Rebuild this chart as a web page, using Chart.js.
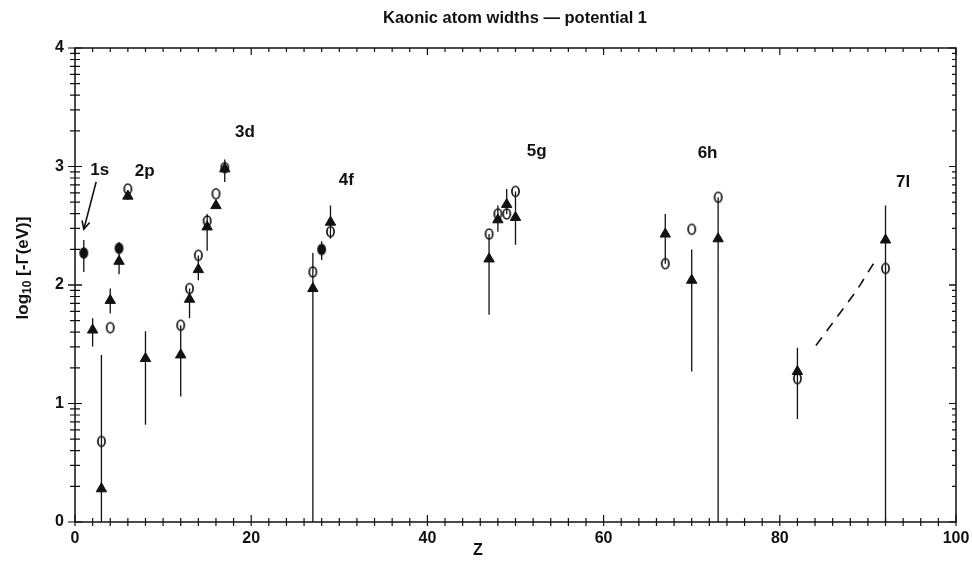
<!DOCTYPE html>
<html><head><meta charset="utf-8">
<script src="https://cdn.jsdelivr.net/npm/chart.js@4.4.0/dist/chart.umd.min.js"></script>
<style>html,body{margin:0;padding:0;background:#fff}</style>
</head><body>
<canvas id="c" width="972" height="565"></canvas>
<script>
// ---- data ----
const triZ   = [2, 3, 4, 5, 6, 8, 12, 13, 14, 15, 16, 17, 27, 29, 47, 48, 49, 50, 67, 70, 73, 82, 92];
const triVal = [1.62, 0.28, 1.87, 2.20, 2.75, 1.38, 1.41, 1.88, 2.13, 2.49, 2.67, 2.98, 1.97, 2.53, 2.22, 2.55, 2.68, 2.57, 2.43, 2.04, 2.39, 1.27, 2.38];
const circZ   = [3, 4, 6, 12, 13, 14, 15, 16, 17, 27, 29, 47, 48, 49, 50, 67, 70, 73, 82, 92];
const circVal = [0.68, 1.64, 2.81, 1.66, 1.97, 2.25, 2.54, 2.77, 2.99, 2.11, 2.45, 2.43, 2.60, 2.60, 2.79, 2.18, 2.47, 2.74, 1.21, 2.14];
const fillZ   = [1, 5, 28];
const fillVal = [2.27, 2.31, 2.30];
const errZ    = [1, 2, 3, 4, 5, 6, 8, 12, 13, 14, 15, 17, 27, 28, 29, 47, 48, 49, 50, 67, 70, 73, 82, 92];
const errLow  = [2.11, 1.48, 0, 1.76, 2.09, 2.72, 0.82, 1.06, 1.72, 2.04, 2.29, 2.87, 0, 2.21, 2.39, 1.75, 2.45, 2.60, 2.34, 2.18, 1.27, 0, 0.87, 0];
const errHigh = [2.38, 1.72, 1.41, 1.97, 2.36, 2.80, 1.61, 1.66, 1.97, 2.25, 2.60, 3.06, 2.27, 2.37, 2.67, 2.43, 2.67, 2.81, 2.79, 2.60, 2.30, 2.74, 1.47, 2.67];
const dashZ   = [84.1, 88.6, 89.2, 89.7, 90.8];
const dashVal = [1.49, 1.94, 2.01, 2.07, 2.20];
const shellNames = ['1s', '2p', '3d', '4f', '5g', '6h', '7l'];
const shellZ     = [2.8, 7.9, 19.3, 30.8, 52.4, 71.8, 94.0];
const shellVal   = [2.97, 2.96, 3.29, 2.88, 3.13, 3.11, 2.87];
const arrowFrom = [2.4, 2.87];
const arrowTo   = [1.0, 2.47];
const xTicks = [0, 20, 40, 60, 80, 100];
const yTicks = [0, 1, 2, 3, 4];
const titleText = 'Kaonic atom widths \u2014 potential 1';
const xTitle = 'Z';

// ---- marker images ----
function ellipseImg(filled) {
  const cv = document.createElement('canvas');
  cv.width = 11; cv.height = 14;
  const g = cv.getContext('2d');
  g.beginPath();
  g.ellipse(5.5, 7, 3.6, 5.0, 0, 0, Math.PI * 2);
  g.lineWidth = 1.7; g.strokeStyle = '#111';
  g.stroke();
  if (filled) { g.fillStyle = '#111'; g.fill(); }
  return cv;
}
const openEl = ellipseImg(false);
const fillEl = ellipseImg(true);

const pts = (xs, ys) => xs.map((x, i) => ({ x: x, y: ys[i] }));
const errData = [];
errZ.forEach((z, i) => { errData.push({ x: z, y: errLow[i] }, { x: z, y: errHigh[i] }, { x: z, y: null }); });

const FONT = '"Liberation Sans", Arial, sans-serif';

const decor = {
  id: 'decor',
  afterDraw(chart) {
    const ctx = chart.ctx, xs = chart.scales.x, ys = chart.scales.y, a = chart.chartArea;
    ctx.save();
    ctx.strokeStyle = '#111'; ctx.fillStyle = '#111';
    // frame
    ctx.lineWidth = 1.5;
    ctx.beginPath();
    ctx.moveTo(a.left, a.bottom); ctx.lineTo(a.left, a.top); ctx.lineTo(a.right, a.top); ctx.lineTo(a.right, a.bottom); ctx.lineTo(a.left, a.bottom);
    ctx.stroke();
    ctx.lineWidth = 1.2;
    // x ticks
    for (let v = 0; v <= 100; v += 2) {
      const px = xs.getPixelForValue(v);
      const major = v % 20 === 0;
      ctx.beginPath();
      ctx.moveTo(px, a.bottom - (major ? 7 : 4)); ctx.lineTo(px, a.bottom + 4);
      ctx.moveTo(px, a.top); ctx.lineTo(px, a.top + (major ? 7 : 4));
      ctx.stroke();
    }
    // y ticks (log minor)
    for (let n = 0; n < 4; n++) {
      for (let k = 1; k <= 10; k++) {
        const v = n + Math.log10(k);
        const py = ys.getPixelForValue(v);
        const major = (k === 1 || k === 10);
        ctx.beginPath();
        ctx.moveTo(a.left - (major ? 7 : 5), py); ctx.lineTo(a.left + (major ? 7 : 5), py);
        ctx.moveTo(a.right, py); ctx.lineTo(a.right - (major ? 7 : 4), py);
        ctx.stroke();
      }
    }
    // shell labels
    ctx.font = 'bold 17px ' + FONT;
    ctx.textAlign = 'center'; ctx.textBaseline = 'middle';
    shellNames.forEach((s, i) => {
      ctx.fillText(s, xs.getPixelForValue(shellZ[i]), ys.getPixelForValue(shellVal[i]));
    });
    // arrow
    const x1 = xs.getPixelForValue(arrowFrom[0]), y1 = ys.getPixelForValue(arrowFrom[1]);
    const x2 = xs.getPixelForValue(arrowTo[0]), y2 = ys.getPixelForValue(arrowTo[1]);
    ctx.lineWidth = 1.6;
    ctx.beginPath(); ctx.moveTo(x1, y1); ctx.lineTo(x2, y2); ctx.stroke();
    const ang = Math.atan2(y2 - y1, x2 - x1);
    ctx.beginPath();
    ctx.moveTo(x2 - 9 * Math.cos(ang - 0.45), y2 - 9 * Math.sin(ang - 0.45));
    ctx.lineTo(x2, y2);
    ctx.lineTo(x2 - 9 * Math.cos(ang + 0.45), y2 - 9 * Math.sin(ang + 0.45));
    ctx.stroke();
    // title
    ctx.font = 'bold 16.5px ' + FONT;
    ctx.fillText(titleText, 515, 18);
    // x title
    ctx.font = 'bold 16px ' + FONT;
    ctx.fillText(xTitle, 478, 551);
    // y title with subscript
    ctx.translate(23, 268);
    ctx.rotate(-Math.PI / 2);
    ctx.textAlign = 'left';
    const f1 = 'bold 17px ' + FONT, f2 = 'bold 12px ' + FONT;
    const p1 = 'log', p2 = '10', p3 = ' [-\u0393(eV)]';
    ctx.font = f1; const w1 = ctx.measureText(p1).width, w3 = ctx.measureText(p3).width;
    ctx.font = f2; const w2 = ctx.measureText(p2).width;
    let sx = -(w1 + w2 + w3) / 2;
    ctx.font = f1; ctx.fillText(p1, sx, 0); sx += w1;
    ctx.font = f2; ctx.fillText(p2, sx, 5); sx += w2;
    ctx.font = f1; ctx.fillText(p3, sx, 0);
    ctx.restore();
  }
};

new Chart(document.getElementById('c'), {
  type: 'scatter',
  data: {
    datasets: [
      { label: 'calc', data: pts(circZ, circVal), pointStyle: openEl, pointRadius: 5, order: 1 },
      { label: 'filled', data: pts(fillZ, fillVal), pointStyle: fillEl, pointRadius: 5, order: 1 },
      { label: 'tri', data: pts(triZ, triVal), pointStyle: 'triangle', pointRadius: 6,
        backgroundColor: '#111', borderColor: '#111', borderWidth: 1, order: 2 },
      { label: 'err', data: errData, showLine: true, spanGaps: false, pointRadius: 0,
        borderColor: '#111', borderWidth: 1.3, order: 3 },
      { label: 'dash', data: pts(dashZ, dashVal), showLine: true, pointRadius: 0,
        borderColor: '#111', borderWidth: 1.6, borderDash: [10, 8], order: 3 }
    ]
  },
  options: {
    responsive: false, animation: false, devicePixelRatio: 1,
    layout: { padding: { top: 48, right: 16, left: 0, bottom: 0 } },
    plugins: { legend: { display: false }, tooltip: { enabled: false }, title: { display: false } },
    scales: {
      x: {
        type: 'linear', min: 0, max: 100,
        afterFit(s) { s.height = 43; s.paddingLeft = 0; s.paddingRight = 0; },
        afterBuildTicks(s) { s.ticks = xTicks.map(v => ({ value: v })); },
        grid: { display: false, drawTicks: false },
        border: { display: false },
        ticks: { color: '#111', padding: 7, font: { family: FONT, size: 16, weight: 'bold' } }
      },
      y: {
        type: 'linear', min: 0, max: 4,
        afterFit(s) { s.width = 75; s.paddingTop = 0; s.paddingBottom = 0; },
        afterBuildTicks(s) { s.ticks = yTicks.map(v => ({ value: v })); },
        grid: { display: false, drawTicks: false },
        border: { display: false },
        ticks: { color: '#111', padding: 11, font: { family: FONT, size: 16, weight: 'bold' } }
      }
    }
  },
  plugins: [decor]
});
</script>
</body></html>
